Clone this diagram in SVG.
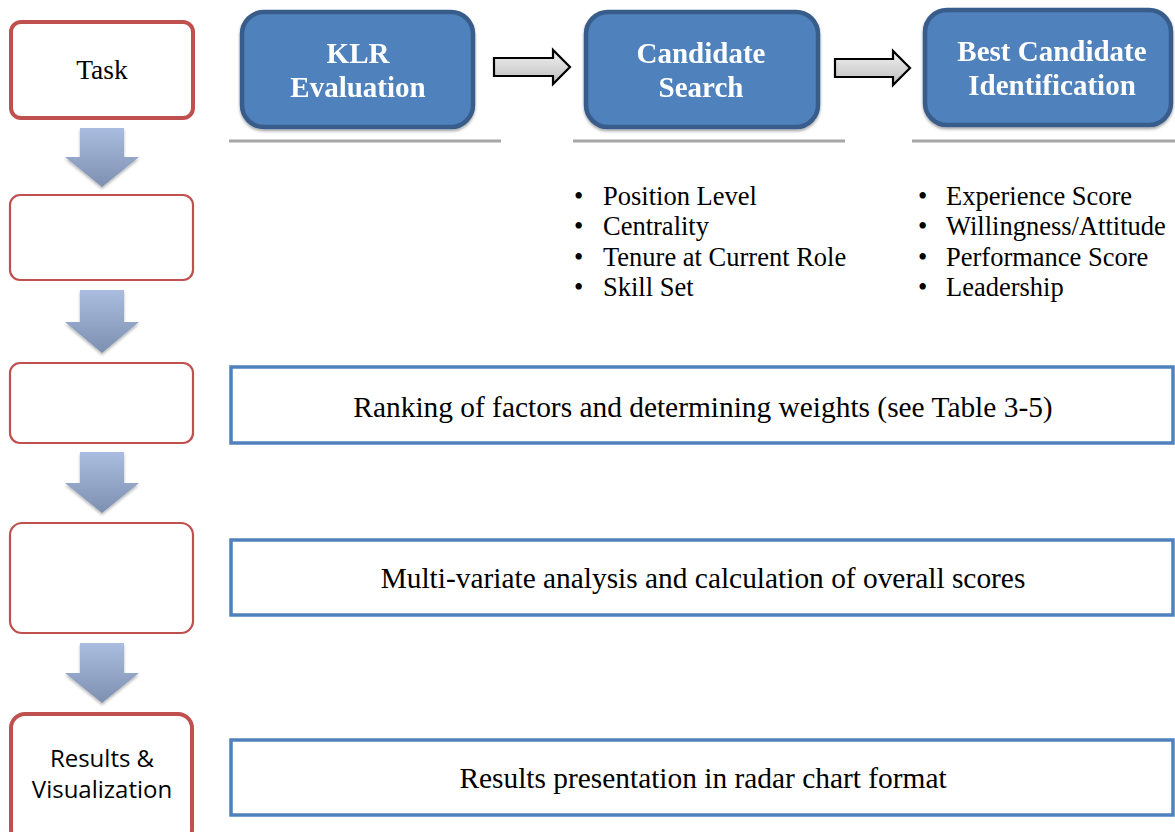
<svg xmlns="http://www.w3.org/2000/svg" width="1175" height="832" viewBox="0 0 1175 832">
<style>
.red{fill:#fff;stroke:#c0504d}
.thick{stroke-width:4}
.thin{stroke-width:2.2}
.bluebox{fill:#4f81bd;stroke:#385d8a;stroke-width:4.5}
.btxt{font-family:"Liberation Serif","Times New Roman",serif;font-weight:bold;font-size:29px;fill:#fff;text-anchor:middle}
.rule{stroke:#a6a6a6;stroke-width:3}
.bul{font-family:"Liberation Serif","Times New Roman",serif;font-size:26.5px;fill:#000}
.step{fill:#fff;stroke:#4f81bd;stroke-width:3.5}
.stxt{font-family:"Liberation Serif","Times New Roman",serif;font-size:29.4px;fill:#000;text-anchor:middle}
.down{fill:url(#gd);filter:url(#sh)}
.right{fill:url(#gr);stroke:#000;stroke-width:2.2;stroke-linejoin:miter}
.sans{font-family:"Open Sans","Liberation Sans",sans-serif;font-size:24px;text-anchor:middle}
</style>
<defs>
<linearGradient id="gd" x1="0" y1="0" x2="0" y2="1">
<stop offset="0" stop-color="#aabde0"/>
<stop offset="1" stop-color="#7d90b0"/>
</linearGradient>
<linearGradient id="gr" x1="0" y1="0" x2="0" y2="1">
<stop offset="0" stop-color="#f2f2f2"/>
<stop offset="1" stop-color="#bdbdbd"/>
</linearGradient>
<filter id="sh" x="-30%" y="-30%" width="160%" height="160%">
<feGaussianBlur in="SourceAlpha" stdDeviation="1.5"/>
<feOffset dx="0" dy="2" result="b"/>
<feComponentTransfer><feFuncA type="linear" slope="0.3"/></feComponentTransfer>
<feMerge><feMergeNode/><feMergeNode in="SourceGraphic"/></feMerge>
</filter>
<filter id="bs" x="-10%" y="-10%" width="120%" height="130%">
<feGaussianBlur in="SourceAlpha" stdDeviation="1.5"/>
<feOffset dx="0" dy="2"/>
<feComponentTransfer><feFuncA type="linear" slope="0.35"/></feComponentTransfer>
<feMerge><feMergeNode/><feMergeNode in="SourceGraphic"/></feMerge>
</filter>
</defs>

<g id="task">
<rect class="red thick" x="11" y="22" width="182" height="96" rx="10"/>
<text x="102" y="79" font-family="Liberation Serif,Times New Roman,serif" font-size="27.5" text-anchor="middle">Task</text>
</g>
<g id="step2"><rect class="red thin" x="10" y="195" width="183" height="85" rx="10"/></g>
<g id="step3"><rect class="red thin" x="10" y="363" width="183" height="80" rx="10"/></g>
<g id="step4"><rect class="red thin" x="10" y="523" width="183" height="110" rx="12"/></g>
<g id="results">
<rect class="red thick" x="11" y="714" width="181" height="130" rx="14"/>
<text class="sans" x="102" y="767">Results &amp;</text>
<text class="sans" x="102" y="798">Visualization</text>
</g>

<g id="klr" filter="url(#bs)">
<rect class="bluebox" x="242" y="12" width="231" height="115" rx="22"/>
<text class="btxt" x="358" y="63">KLR</text>
<text class="btxt" x="358" y="97">Evaluation</text>
</g>
<g id="candidate-search" filter="url(#bs)">
<rect class="bluebox" x="586" y="12" width="232" height="115" rx="22"/>
<text class="btxt" x="701" y="63">Candidate</text>
<text class="btxt" x="701" y="97">Search</text>
</g>
<g id="best-candidate" filter="url(#bs)">
<rect class="bluebox" x="925" y="10" width="246" height="115" rx="22"/>
<text class="btxt" x="1052" y="61">Best Candidate</text>
<text class="btxt" x="1052" y="95">Identification</text>
</g>

<g id="rules">
<line class="rule" x1="229" y1="141" x2="501" y2="141"/>
<line class="rule" x1="573" y1="141" x2="845" y2="141"/>
<line class="rule" x1="912" y1="141" x2="1175" y2="141"/>
</g>

<g id="search-factors" class="bul">
<text x="574" y="205">•</text><text x="603" y="205">Position Level</text>
<text x="574" y="235">•</text><text x="603" y="235">Centrality</text>
<text x="574" y="266">•</text><text x="603" y="266">Tenure at Current Role</text>
<text x="574" y="296">•</text><text x="603" y="296">Skill Set</text>
</g>
<g id="best-factors" class="bul">
<text x="918" y="205">•</text><text x="946" y="205">Experience Score</text>
<text x="918" y="235">•</text><text x="946" y="235">Willingness/Attitude</text>
<text x="918" y="266">•</text><text x="946" y="266">Performance Score</text>
<text x="918" y="296">•</text><text x="946" y="296">Leadership</text>
</g>

<g id="ranking">
<rect class="step" x="231" y="367" width="942" height="76"/>
<text class="stxt" x="703" y="417">Ranking of factors and determining weights (see Table 3-5)</text>
</g>
<g id="multivariate">
<rect class="step" x="231" y="540" width="942" height="75"/>
<text class="stxt" x="703" y="588">Multi-variate analysis and calculation of overall scores</text>
</g>
<g id="presentation">
<rect class="step" x="231" y="740" width="942" height="75"/>
<text class="stxt" x="703" y="788">Results presentation in radar chart format</text>
</g>

<g id="connectors">
<path class="down" d="M80 128 H124 V157 H139 L102 187 L65 157 H80 Z"/>
<path class="down" d="M80 290 H124 V322 H139 L102 353 L65 322 H80 Z"/>
<path class="down" d="M80 452 H124 V483 H139 L102 513 L65 483 H80 Z"/>
<path class="down" d="M80 643 H124 V673 H139 L102 703 L65 673 H80 Z"/>
<path class="right" d="M494 58 H553 V50 L570 67 L553 84 V76 H494 Z"/>
<path class="right" d="M835 59 H893 V51 L910 68 L893 85 V77 H835 Z"/>
</g>
</svg>
